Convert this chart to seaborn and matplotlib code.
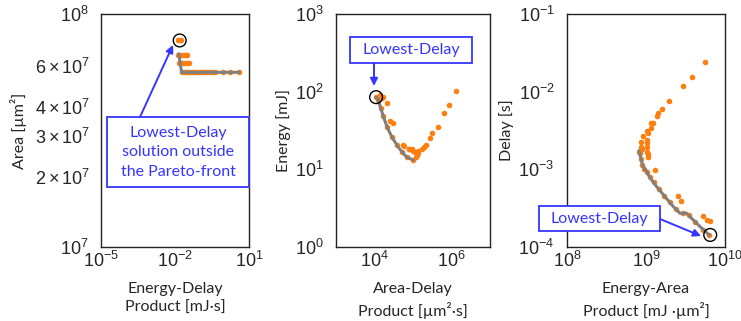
import numpy as np
import matplotlib
matplotlib.use('Agg')
import matplotlib.pyplot as plt
import matplotlib.ticker as mticker
from matplotlib.patches import Rectangle, FancyArrowPatch
import seaborn as sns

# panel 1: Energy-Delay product vs area
edp_pts = [0.013, 0.0155, 0.018,
           0.0135, 0.016, 0.019, 0.023, 0.027, 0.032,
           0.014, 0.017, 0.021, 0.026, 0.031, 0.037,
           0.019, 0.023, 0.028, 0.034, 0.041, 0.05, 0.06, 0.072, 0.088,
           0.11, 0.13, 0.16, 0.2, 0.26, 0.35, 0.42, 0.88, 1.7, 3.9]
area_pts = [7.7e7, 7.7e7, 7.7e7,
            6.67e7, 6.67e7, 6.67e7, 6.67e7, 6.67e7, 6.67e7,
            6.16e7, 6.16e7, 6.16e7, 6.16e7, 6.16e7, 6.16e7,
            5.62e7, 5.62e7, 5.62e7, 5.62e7, 5.62e7, 5.62e7, 5.62e7, 5.62e7, 5.62e7,
            5.62e7, 5.62e7, 5.62e7, 5.62e7, 5.62e7, 5.62e7, 5.62e7, 5.62e7, 5.62e7, 5.62e7]
edp_front = [0.0142, 0.0185, 0.05, 0.3, 3.9]
area_front = [6.75e7, 5.62e7, 5.62e7, 5.62e7, 5.62e7]
edp_best, area_best = 0.0155, 7.7e7

# panel 2: Area-Delay product vs energy
adp_pts = [1.1e4, 1.26e4, 1.45e4, 1.7e4, 2.1e4, 2.8e4, 3.8e4, 5.1e4, 6.9e4, 1.02e5,
           1.38e4, 1.7e4, 2.1e4, 1.55e4, 2.6e4, 3.1e4, 5.5e4, 5.9e4, 7.9e4, 8.1e4,
           9.3e4, 1e5, 1.12e5, 1.2e5, 1.26e5, 1.35e5, 1.38e5, 1.7e5, 1.95e5, 2.2e5,
           2.75e5, 3.2e5, 4.4e5, 6.5e5, 8.7e5, 1.32e6]
energy_pts = [85, 78, 61, 48, 35.5, 26.3, 20.6, 16.9, 14.3, 13.2,
              91, 86, 71, 82, 42.4, 39.8, 20.6, 20.2, 18.2, 18.2,
              18.2, 17.4, 16.9, 14.6, 15.3, 16.2, 17.4, 18.2, 19.5, 20.6,
              25.1, 29.2, 35.5, 52.7, 67.5, 103]
adp_front = [1.1e4, 1.26e4, 1.45e4, 1.7e4, 2.1e4, 2.8e4, 3.8e4, 5.1e4, 6.9e4, 1.02e5]
energy_front = [85, 78, 61, 48, 35.5, 26.3, 20.6, 16.9, 14.3, 13.2]
adp_best, energy_best = 1.1e4, 85

# panel 3: Energy-Area product vs delay
eap_pts = [5.6e9, 3.8e9, 2.9e9, 1.97e9, 1.61e9, 1.41e9, 1.39e9, 1.22e9, 1.16e9, 1.16e9,
           1.02e9, 1.07e9, 9.2e8, 8.65e8, 1.02e9, 1.02e9, 1.02e9, 8.6e8, 8.8e8, 1.02e9,
           1.05e9, 1.07e9, 8.15e8, 1.3e9, 2.57e9, 2.8e9, 5.3e9, 6.0e9, 6.5e9,
           8.3e8, 8.6e8, 9.0e8, 9.5e8, 1.03e9, 1.12e9, 1.25e9, 1.45e9, 1.7e9, 2.0e9,
           2.4e9, 2.9e9, 3.5e9, 4.2e9, 5.3e9, 6.3e9]
delay_pts = [2.39e-2, 1.56e-2, 1.18e-2, 7.66e-3, 5.93e-3, 5.27e-3, 4.86e-3, 3.99e-3, 3.92e-3, 3.38e-3,
             3.15e-3, 2.92e-3, 2.69e-3, 2.28e-3, 2.39e-3, 2.17e-3, 1.96e-3, 1.96e-3, 1.82e-3, 1.69e-3,
             1.56e-3, 1.46e-3, 1.69e-3, 9.8e-4, 4.47e-4, 3.9e-4, 2.54e-4, 2.24e-4, 2.14e-4,
             1.6e-3, 1.35e-3, 1.15e-3, 1.02e-3, 9.2e-4, 8.0e-4, 6.8e-4, 5.6e-4, 4.6e-4, 3.8e-4,
             3.1e-4, 2.72e-4, 2.55e-4, 2.1e-4, 1.65e-4, 1.43e-4]
eap_front = [8.15e8, 8.4e8, 8.8e8, 9.25e8, 9.9e8, 1.07e9, 1.18e9, 1.36e9, 1.58e9, 1.83e9,
             2.22e9, 2.69e9, 3.27e9, 3.78e9, 4.83e9, 6.3e9]
delay_front = [1.74e-3, 1.53e-3, 1.26e-3, 1.08e-3, 9.8e-4, 8.5e-4, 7.3e-4, 6.0e-4, 5.0e-4, 4.17e-4,
               3.31e-4, 2.72e-4, 2.72e-4, 2.34e-4, 1.83e-4, 1.43e-4]
eap_best, delay_best = 6.5e9, 1.43e-4

sns.set_style('white')
plt.rcParams['font.family'] = ['Liberation Sans', 'DejaVu Sans']
plt.rcParams['mathtext.fontset'] = 'custom'
plt.rcParams['mathtext.rm'] = 'Liberation Sans'
plt.rcParams['mathtext.it'] = 'Liberation Sans:italic'
plt.rcParams['mathtext.bf'] = 'Liberation Sans:bold'

W, H = 741, 321
orange = '#ff7f0e'
grey = '#808080'
blue = '#3535ff'
lab_font = dict(family='Lato', fontsize=11.5)
tick_size = 13

fig = plt.figure(figsize=(W / 100, H / 100), dpi=100)


def px_axes(x0, x1, y0, y1):
    return fig.add_axes([x0 / W, 1 - y1 / H, (x1 - x0) / W, (y1 - y0) / H])


def fp(x, y):
    return (x / W, 1 - y / H)


ax1 = px_axes(101, 249, 14, 247)
ax2 = px_axes(336, 490, 14, 247)
ax3 = px_axes(567, 725, 14, 247)

panels = [
    (ax1, edp_pts, area_pts, edp_front, area_front, edp_best, area_best,
     (1e-5, 1e1), (1e7, 1e8), 'Energy-Delay\nProduct [mJ·s]', 'Area [µm²]'),
    (ax2, adp_pts, energy_pts, adp_front, energy_front, adp_best, energy_best,
     (1e3, 1e7), (1e0, 1e3), 'Area-Delay\nProduct [µm²·s]', 'Energy [mJ]'),
    (ax3, eap_pts, delay_pts, eap_front, delay_front, eap_best, delay_best,
     (1e8, 1e10), (1e-4, 1e-1), 'Energy-Area\nProduct [mJ ·µm²]', 'Delay [s]'),
]

for ax, xp, yp, xf, yf, xb, yb, xl, yl, xlab, ylab in panels:
    ax.set_xscale('log')
    ax.set_yscale('log')
    sns.scatterplot(x=xp, y=yp, ax=ax, color=orange, s=16, linewidth=0, zorder=2)
    sns.lineplot(x=xf, y=yf, ax=ax, sort=False, estimator=None, color=grey, lw=2.2, zorder=3)
    ax.scatter([xb], [yb], s=85, facecolors='none', edgecolors='black', linewidths=1, zorder=4)
    ax.set_xlim(*xl)
    ax.set_ylim(*yl)
    ax.set_xlabel(xlab, labelpad=8, linespacing=1.4, **lab_font)
    ax.set_ylabel(ylab, labelpad=3, **lab_font)
    for s in ax.spines.values():
        s.set_color('#222222')
        s.set_linewidth(1)
    ax.tick_params(axis='both', which='major', labelsize=tick_size, color='#222222')
    ax.tick_params(axis='x', which='both', direction='in', pad=3)
    ax.tick_params(axis='y', which='both', direction='out', pad=5)
    ax.tick_params(which='major', length=4, width=1)
    ax.tick_params(which='minor', length=2.5, width=0.8)

ax1.set_xticks([1e-5, 1e-2, 1e1])
ax1.xaxis.set_minor_locator(mticker.NullLocator())
ax1.tick_params(axis='y', which='minor', labelsize=tick_size)
ax1.yaxis.labelpad = 6
ax2.set_xticks([1e4, 1e6])
ax2.xaxis.set_minor_locator(mticker.NullLocator())

# annotation boxes
def note(x0, x1, y0, y1, txt, ls=1.2):
    fig.add_artist(Rectangle(fp(x0, y1), (x1 - x0) / W, (y1 - y0) / H,
                             transform=fig.transFigure, fc='white', ec=blue, lw=1.3, zorder=5))
    cx, cy = fp((x0 + x1) / 2, (y0 + y1) / 2)
    fig.text(cx, cy, txt, ha='center', va='center', color=blue, linespacing=ls,
             family='Lato', fontsize=11.5, zorder=6)


def arrow(a, b):
    fig.add_artist(FancyArrowPatch(fp(*a), fp(*b), transform=fig.transFigure,
                                   arrowstyle='-|>', mutation_scale=11, color=blue,
                                   lw=1.4, shrinkA=0, shrinkB=0, zorder=5))


note(107, 249, 117, 187, 'Lowest-Delay\nsolution outside\nthe Pareto-front', ls=1.5)
arrow((140, 117), (173, 45))
note(350, 472, 37, 63, 'Lowest-Delay')
arrow((374, 63), (374, 86))
note(539, 660, 206, 231, 'Lowest-Delay')
arrow((660, 219), (701, 236))

fig.savefig('out.png', dpi=100)
